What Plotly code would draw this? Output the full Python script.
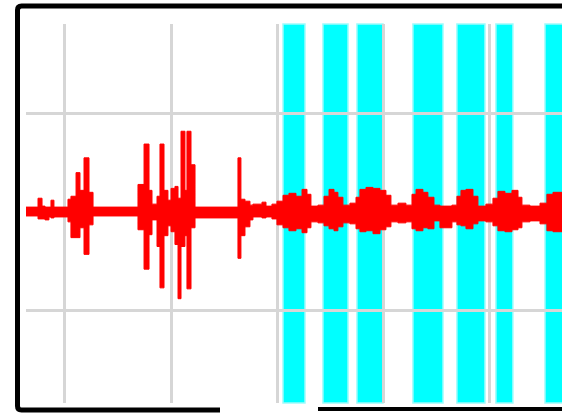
import plotly.graph_objects as go

# Signal envelope: time (s), upper and lower excursion (mV) of each step
t = [0.633, 0.746, 0.784, 0.812, 0.849, 0.868, 0.896, 1.028, 1.056, 1.104,
     1.141, 1.179, 1.226, 1.264, 1.687, 1.744, 1.791, 1.819, 1.866, 1.894,
     1.932, 1.969, 1.998, 2.035, 2.064, 2.092, 2.129, 2.148, 2.186, 2.224,
     2.628, 2.656, 2.694, 2.741, 2.769, 2.854, 2.892, 2.948, 2.995, 3.052,
     3.108, 3.174, 3.231, 3.278, 3.315, 3.381, 3.438, 3.485, 3.532, 3.569,
     3.616, 3.682, 3.739, 3.776, 3.833, 3.899, 3.965, 4.021, 4.068, 4.134,
     4.209, 4.266, 4.304, 4.369, 4.416, 4.473, 4.529, 4.642, 4.689, 4.727,
     4.774, 4.840, 4.887, 4.962, 5.028, 5.075, 5.141, 5.207, 5.264, 5.301,
     5.376, 5.471, 5.536, 5.593, 5.734]
upper = [0.05, 0.14, 0.06, 0.05, 0.05, 0.12, 0.05, 0.13, 0.16, 0.40,
         0.22, 0.55, 0.20, 0.05, 0.28, 0.69, 0.22, 0.08, 0.16, 0.69,
         0.22, 0.12, 0.24, 0.26, 0.14, 0.82, 0.22, 0.82, 0.48, 0.05,
         0.55, 0.13, 0.11, 0.07, 0.08, 0.10, 0.06, 0.08, 0.11, 0.17,
         0.19, 0.16, 0.23, 0.18, 0.06, 0.07, 0.16, 0.23, 0.20, 0.15,
         0.07, 0.09, 0.15, 0.23, 0.25, 0.24, 0.22, 0.17, 0.07, 0.09,
         0.07, 0.18, 0.23, 0.20, 0.15, 0.07, 0.06, 0.07, 0.16, 0.22,
         0.23, 0.16, 0.06, 0.08, 0.14, 0.21, 0.19, 0.22, 0.15, 0.07,
         0.06, 0.09, 0.18, 0.20, 0.20]
lower = [-0.04, -0.07, -0.07, -0.08, -0.05, -0.06, -0.05, -0.10, -0.26, -0.26,
         -0.16, -0.43, -0.13, -0.04, -0.18, -0.58, -0.23, -0.08, -0.35, -0.77,
         -0.24, -0.14, -0.20, -0.33, -0.88, -0.35, -0.24, -0.78, -0.16, -0.06,
         -0.47, -0.24, -0.15, -0.08, -0.05, -0.06, -0.05, -0.07, -0.13, -0.16,
         -0.19, -0.17, -0.21, -0.16, -0.10, -0.11, -0.14, -0.17, -0.19, -0.15,
         -0.11, -0.12, -0.17, -0.20, -0.19, -0.22, -0.18, -0.15, -0.10, -0.11,
         -0.10, -0.17, -0.19, -0.16, -0.17, -0.09, -0.16, -0.10, -0.13, -0.14,
         -0.17, -0.12, -0.09, -0.10, -0.14, -0.19, -0.20, -0.18, -0.16, -0.10,
         -0.09, -0.12, -0.19, -0.20, -0.20]

# Marked intervals (s)
band_start = [3.052, 3.428, 3.748, 4.275, 4.689, 5.056, 5.518]
band_end = [3.259, 3.664, 3.993, 4.558, 4.953, 5.216, 5.800]

W, H = 562, 413
ML, MR, MT, MB = 26, 0, 24, 10
PW, PH = W - ML - MR, H - MT - MB


def px(x):
    return (x - ML) / PW


def py(y):
    return (H - MB - y) / PH


fig = go.Figure()
fig.add_trace(go.Scatter(x=t, y=lower, mode="lines", line=dict(color="#ff0000", width=1, shape="hv"),
                         hoverinfo="skip", showlegend=False))
fig.add_trace(go.Scatter(x=t, y=upper, mode="lines", line=dict(color="#ff0000", width=1, shape="hv"),
                         fill="tonexty", fillcolor="#ff0000", hoverinfo="skip", showlegend=False))

shapes = []
for a, b in zip(band_start, band_end):
    shapes.append(dict(type="rect", xref="x", yref="paper", x0=a, x1=b, y0=0, y1=1,
                       fillcolor="#00ffff", line=dict(color="#9ffcfc", width=1.5), layer="between"))

# Rounded black frame, open along part of the bottom edge
r = 4
left, top, bot, right = 17.5, 6, 410, 600
frame = (f"M {px(220)} {py(bot)} L {px(left + r)} {py(bot)} "
         f"Q {px(left)} {py(bot)} {px(left)} {py(bot - r)} "
         f"L {px(left)} {py(top + r)} Q {px(left)} {py(top)} {px(left + r)} {py(top)} "
         f"L {px(right)} {py(top)}")
shapes.append(dict(type="path", xref="paper", yref="paper", path=frame,
                   line=dict(color="#000000", width=5), layer="above"))
shapes.append(dict(type="path", xref="paper", yref="paper",
                   path=f"M {px(318)} {py(bot - 1)} L {px(right)} {py(bot - 1)}",
                   line=dict(color="#000000", width=4), layer="above"))

fig.update_layout(
    width=W, height=H,
    margin=dict(l=ML, r=MR, t=MT, b=MB, pad=0),
    paper_bgcolor="white", plot_bgcolor="white",
    shapes=shapes,
    xaxis=dict(range=[0.633, 5.678], dtick=1, tick0=0, showgrid=True, gridcolor="#d6d6d6",
               gridwidth=2.5, zeroline=False, showticklabels=False, showline=False, ticks=""),
    yaxis=dict(range=[-1.939, 1.909], dtick=1, tick0=0, showgrid=True, gridcolor="#d6d6d6",
               gridwidth=2.5, zeroline=False, showticklabels=False, showline=False, ticks=""),
)

fig.write_html("out.html", config={"displayModeBar": False})
